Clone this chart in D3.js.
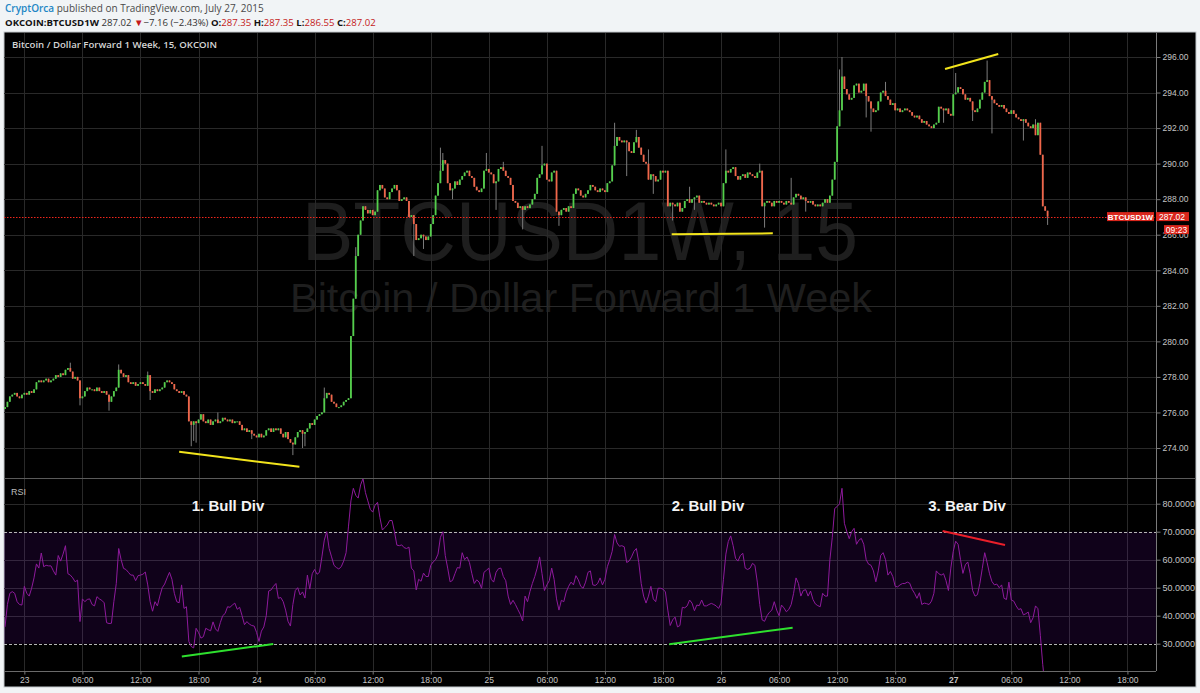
<!DOCTYPE html>
<html>
<head>
<meta charset="utf-8">
<script src="https://cdn.jsdelivr.net/npm/d3@7"></script>
<style>
  body { margin: 0; background: #f1f4f6; }
  svg { display: block; font-family: "Liberation Sans", Arial, sans-serif; }
</style>
</head>
<body>
<svg id="chart" width="1200" height="693"></svg>
<script>
// 15 minute closes, OKCOIN BTCUSD1W, from Jul 22 22:00
const closes = [
  276.3, 276.6, 276.9, 277.0, 277.1, 276.9, 276.8, 277.0, 277.1, 277.0, 277.2, 277.1, 277.3, 277.7, 277.8, 277.7,
  277.8, 277.9, 277.7, 277.8, 277.9, 278.1, 278.0, 278.2, 278.1, 278.4, 278.5, 278.3, 277.9, 278.0, 277.8, 276.8,
  276.9, 277.2, 277.4, 277.3, 277.3, 277.2, 277.4, 277.2, 277.1, 277.2, 277.0, 276.6, 276.9, 277.2, 277.4, 278.4,
  278.2, 278.0, 278.1, 277.7, 277.6, 277.7, 277.5, 277.6, 277.7, 277.6, 277.5, 278.1, 277.2, 277.1, 277.3, 277.2,
  277.3, 277.4, 277.7, 277.8, 277.7, 277.6, 277.3, 277.2, 277.1, 277.2, 277.0, 276.9, 275.5, 275.3, 275.5, 275.4,
  275.6, 275.9, 275.5, 275.4, 275.6, 275.3, 275.5, 275.6, 275.4, 275.5, 275.7, 275.6, 275.5, 275.6, 275.4, 275.5,
  275.5, 275.3, 275.0, 275.1, 274.9, 275.0, 274.8, 274.7, 274.6, 274.8, 274.6, 274.7, 275.0, 275.1, 274.9, 275.1,
  275.0, 275.1, 274.8, 274.6, 274.9, 274.5, 274.3, 274.2, 274.6, 274.9, 275.0, 274.8, 274.9, 275.1, 275.4, 275.3,
  275.6, 275.8, 275.9, 276.0, 276.8, 277.1, 277.0, 276.6, 276.5, 276.3, 276.3, 276.4, 276.6, 276.7, 276.8, 280.3,
  282.4, 284.8, 286.0, 286.8, 287.6, 287.4, 287.2, 287.4, 287.1, 287.3, 288.5, 288.8, 288.6, 288.1, 288.0, 288.4,
  288.6, 288.8, 288.5, 287.9, 288.0, 288.1, 287.9, 287.0, 287.1, 286.6, 285.7, 285.8, 286.0, 285.9, 285.7, 285.9,
  286.6, 287.1, 288.2, 288.9, 289.6, 290.2, 290.0, 288.9, 288.5, 288.6, 289.0, 288.8, 289.1, 289.3, 289.5, 289.6,
  289.3, 289.2, 288.7, 288.5, 288.4, 288.6, 289.6, 289.7, 289.5, 289.4, 288.9, 289.0, 289.7, 289.8, 289.6, 289.3,
  289.2, 288.8, 287.9, 287.8, 287.5, 287.6, 287.4, 287.6, 287.5, 287.7, 288.0, 288.3, 289.2, 289.4, 289.9, 290.0,
  289.1, 289.0, 289.5, 289.6, 287.3, 287.1, 287.4, 287.5, 287.3, 287.6, 287.5, 288.3, 288.6, 288.5, 288.2, 288.1,
  288.3, 288.5, 288.8, 288.7, 288.5, 288.4, 288.6, 288.5, 288.4, 288.9, 289.0, 289.9, 291.0, 291.5, 291.3, 291.2,
  291.3, 291.2, 290.7, 290.6, 291.2, 291.5, 290.9, 290.5, 290.1, 290.0, 289.1, 289.4, 289.3, 289.0, 289.1, 289.6,
  289.5, 289.6, 287.6, 287.8, 287.7, 287.6, 287.8, 287.3, 287.5, 287.9, 288.0, 287.8, 288.0, 288.1, 288.2, 287.8,
  287.9, 287.8, 287.7, 287.8, 287.7, 287.6, 287.7, 287.8, 287.6, 288.9, 289.6, 289.5, 289.7, 289.8, 289.3, 289.1,
  289.3, 289.4, 289.2, 289.5, 289.4, 289.3, 289.2, 289.5, 289.6, 287.6, 287.8, 287.9, 287.8, 287.6, 287.9, 287.8,
  287.9, 287.8, 287.7, 287.9, 287.8, 287.7, 288.1, 288.3, 288.2, 288.0, 288.1, 287.9, 287.8, 287.9, 287.7, 287.6,
  287.7, 287.6, 287.8, 288.0, 287.8, 288.2, 289.1, 290.1, 292.1, 293.0, 294.9, 294.2, 293.9, 293.6, 293.7, 294.4,
  294.5, 294.0, 294.1, 294.5, 293.8, 293.5, 293.1, 292.9, 293.0, 293.5, 294.0, 294.1, 293.8, 293.6, 293.3, 293.4,
  293.0, 293.1, 292.9, 293.0, 293.1, 293.0, 292.9, 292.7, 292.6, 292.7, 292.5, 292.3, 292.4, 292.2, 292.1, 292.0,
  292.2, 292.3, 293.2, 293.1, 293.0, 293.1, 292.8, 292.7, 293.9, 294.0, 294.3, 294.2, 293.9, 293.6, 293.7, 293.5,
  293.0, 292.9, 293.1, 293.6, 294.0, 294.6, 294.7, 293.8, 293.6, 293.4, 293.3, 293.2, 293.3, 293.1, 292.9, 292.8,
  293.0, 292.8, 292.6, 292.5, 292.4, 292.5, 292.3, 292.1, 292.0, 292.2, 291.6, 292.3, 290.5, 287.6, 287.35, 287.02
];
const firstOpen = 276.2;

// longer wicks that stand out [candle, price]
const wickHighs = [
  [27, 278.8], [47, 278.7], [59, 278.3], [88, 276.0], [132, 277.4], [145, 285.3], [180, 290.9], [181, 290.6],
  [199, 290.6], [206, 290.1], [222, 291.0], [252, 292.3], [261, 291.9], [266, 290.8], [283, 288.7], [298, 290.8],
  [312, 290.0], [325, 289.2], [345, 295.3], [346, 296.0], [364, 294.6], [393, 295.1], [406, 295.8], [426, 292.5]
];
const wickLows = [
  [31, 276.4], [43, 276.1], [60, 276.7], [77, 274.1], [78, 274.4], [79, 274.3], [102, 274.5], [119, 273.6],
  [123, 274.0], [124, 274.1], [169, 284.8], [173, 285.2], [185, 288.0], [203, 287.4], [214, 286.3], [229, 286.5],
  [257, 289.3], [268, 288.3], [276, 286.8], [285, 287.4], [314, 286.4], [331, 287.3], [356, 292.6], [358, 291.8],
  [388, 292.3], [400, 292.4], [408, 291.7], [421, 291.3], [431, 286.55]
];

// RSI(14), one value per candle
const rsiValues = [
  36, 44, 48, 48.6, 48, 45, 44, 43.8, 50.5, 48, 47, 49.8, 53.5, 58.5, 57, 62.4,
  57.5, 58, 57.8, 57.8, 56, 54.5, 61.5, 59.5, 62, 65, 55, 54.5, 53.5, 52.1, 52.7, 37.9,
  46, 45, 45.8, 46, 44, 43.5, 46.8, 46, 45.5, 44.6, 37.5, 37.2, 37.3, 45, 51.5, 64,
  60, 56.9, 56.5, 55.5, 54.5, 54.5, 52.5, 54.3, 54.5, 54.8, 55.6, 51, 45, 41.6, 45, 43.5,
  47, 50, 51.3, 53.5, 55.5, 53, 48, 45, 44.6, 51, 42.6, 43.2, 30.8, 29, 28.5, 35.5,
  34, 32, 32.5, 35.5, 35, 34.6, 37.8, 35.3, 34.4, 37.5, 40, 40.8, 43.2, 43, 43.8, 44.5,
  42.3, 43, 40, 36.8, 37.9, 37, 36.5, 36.3, 34, 30.8, 34.5, 36, 40, 48.8, 49.2, 50.5,
  51.5, 46.2, 46.5, 45, 42, 38, 36.3, 44, 49, 50, 47.4, 48.5, 46.3, 54.5, 49.5, 55,
  56.5, 54.8, 55.5, 61, 67, 70, 64, 61, 58, 57.2, 56.7, 57.5, 59.5, 62.5, 72, 81,
  85.5, 83, 82, 86.7, 89, 84, 81, 78, 77, 79.5, 80.5, 75, 70.6, 71.5, 72.4, 74,
  74, 70, 65.2, 65, 65.3, 64.3, 64, 64.5, 57, 56, 49.2, 53, 52.3, 55.2, 54, 54,
  58, 59.2, 60, 62, 68, 70, 61.5, 57, 52.1, 52.6, 55, 57.2, 57, 62.5, 60, 61,
  59, 55, 51.5, 52.8, 52, 49.8, 55.5, 56.2, 57, 53, 52, 55.5, 56.8, 57, 54, 52.5,
  47, 44, 45.5, 44, 42.2, 40.5, 38.1, 47, 45, 48.6, 51.5, 54, 57, 61, 55, 49,
  51, 52.5, 57, 53, 46, 42, 45.5, 45, 48.5, 50.5, 52, 51, 54.3, 52.8, 50.5, 49.8,
  52, 55.5, 56, 51, 50.8, 51.5, 53.5, 51, 53, 57.5, 60, 63, 69, 66, 64.8, 65,
  64.6, 59, 59.5, 61, 63, 64, 59, 51.5, 47, 44.5, 47, 50.5, 46, 45, 49.8, 49.8,
  49.5, 48.5, 42, 36.5, 38.5, 39.5, 36, 36.5, 43, 42.8, 43.5, 45.6, 44.5, 41.8, 43.8, 43.6,
  45.6, 43.5, 43.5, 44, 44.4, 44, 43.5, 42.6, 44.5, 53, 62, 66.5, 68.5, 65, 60.5, 59.5,
  61.5, 62.3, 57, 56.5, 57, 58.7, 58, 52, 44, 38.5, 38, 40, 41.2, 42, 45, 42,
  40, 43.8, 42.8, 41.4, 42.2, 44, 48, 53.5, 51.5, 47, 49, 49.3, 47, 48.8, 45.8, 44.2,
  43.6, 43.2, 48, 47, 47, 60, 68, 78.3, 79, 80, 85.5, 73, 70, 67.5, 70, 71.2,
  65.5, 67, 67.6, 65.5, 60, 58.4, 58, 56, 52.1, 56, 61.5, 62.5, 60, 54.5, 55.8, 54,
  50.5, 50.3, 51, 51.5, 51.5, 52, 51.6, 49.4, 48, 46.2, 48.2, 44, 44.5, 44.3, 44, 45.2,
  48, 56, 55, 54.5, 55, 52.5, 49, 57, 63, 66.6, 65.5, 60, 55.1, 58.2, 59.2, 55,
  49, 47, 47.5, 51.5, 56.9, 62.5, 59, 55, 52.2, 51, 51.3, 50, 51, 46.2, 45.8, 52,
  45.6, 45.2, 43.5, 42.2, 42.5, 40.3, 40.7, 41.3, 37.5, 39.3, 43.5, 42.5, 33, 22.5, 14, 10
];

const priceTicks = [274, 276, 278, 280, 282, 284, 286, 288, 290, 292, 294, 296];
const rsiTicks = [30, 40, 50, 60, 70, 80];
const rsiGrid = [40, 50, 60, 80];
const rsiBand = [30, 70];

// drawn trend lines [candle, value, candle, value]
const priceLines = [[72, 273.79, 121.7, 272.94], [275.6, 286.02, 317.4, 286.08], [388.6, 295.32, 410.6, 296.17]];
const rsiLines = [[73.1, 25.4, 110.9, 29.9, "bull"], [274.6, 29.8, 325.6, 35.7, "bull"], [387.6, 70.25, 413.4, 65.25, "bear"]];
const notes = [["1. Bull Div", 92.2, 77.4], ["2. Bull Div", 290.6, 77.4], ["3. Bear Div", 397.7, 77.4]];

const lastPrice = 287.02;

// ---- layout
const paneL = 4, paneR = 1156, outerR = 1196;
const priceTop = 33, priceBot = 478, rsiBot = 671, axisBot = 687;

const t0 = new Date(2015, 6, 22, 22, 0);
const timeAt = i => new Date(+t0 + i * 15 * 60000);

const x = d3.scaleTime().domain([t0, timeAt(closes.length - 1)]).range([5, 1047.6]);
const y = d3.scaleLinear().domain([274, 296]).range([448, 57]);
const yr = d3.scaleLinear().domain([30, 70]).range([643.7, 531.7]);

const svg = d3.select("#chart");

// header
const head = svg.append("g").attr("font-family", "'Open Sans', sans-serif");
const h1 = head.append("text").attr("x", 5).attr("y", 12).attr("font-size", 10);
h1.append("tspan").attr("fill", "#1e87c5").attr("font-weight", 600).text("CryptOrca");
h1.append("tspan").attr("fill", "#4a4a4a").text(" published on TradingView.com, July 27, 2015");
const h2 = head.append("text").attr("x", 5).attr("y", 26).attr("font-size", 9.6).attr("fill", "#333");
h2.append("tspan").attr("font-weight", 700).attr("fill", "#111").text("OKCOIN:BTCUSD1W");
h2.append("tspan").text(" 287.02 ");
h2.append("tspan").attr("fill", "#c41a1a").text("▼");
h2.append("tspan").text("−7.16 (−2.43%)");
[["O:", "287.35"], ["H:", "287.35"], ["L:", "286.55"], ["C:", "287.02"]].forEach(([k, v]) => {
  h2.append("tspan").attr("font-weight", 700).attr("fill", "#111").text(" " + k);
  h2.append("tspan").attr("fill", "#c41a1a").text(v);
});

// chart background
svg.append("rect").attr("x", paneL).attr("y", 32).attr("width", outerR - paneL).attr("height", axisBot - 32)
  .attr("fill", "#000").attr("stroke", "#c3c8cc");

const defs = svg.append("defs");
defs.append("clipPath").attr("id", "clipP").append("rect")
  .attr("x", paneL).attr("y", priceTop).attr("width", paneR - paneL).attr("height", priceBot - priceTop);
defs.append("clipPath").attr("id", "clipR").append("rect")
  .attr("x", paneL).attr("y", priceBot).attr("width", paneR - paneL).attr("height", rsiBot - priceBot);

// watermark
svg.append("text").attr("x", 580).attr("y", 260).attr("text-anchor", "middle")
  .attr("font-size", 84).attr("fill", "#1e1e1e").attr("textLength", 556).attr("lengthAdjust", "spacingAndGlyphs")
  .text("BTCUSD1W, 15");
svg.append("text").attr("x", 581).attr("y", 312).attr("text-anchor", "middle")
  .attr("font-size", 40).attr("fill", "#1e1e1e").attr("textLength", 582).attr("lengthAdjust", "spacingAndGlyphs")
  .text("Bitcoin / Dollar Forward 1 Week");

// time ticks
const timeTicks = d3.timeHour.every(6).range(new Date(2015, 6, 23, 0), new Date(2015, 6, 28, 0))
  .filter(d => x(d) < paneR - 8);

const grid = svg.append("g").attr("stroke", "#292929").attr("stroke-width", 1).attr("shape-rendering", "crispEdges");
grid.selectAll(".vg").data(timeTicks).join("line")
  .attr("x1", d => Math.round(x(d)) + 0.5).attr("x2", d => Math.round(x(d)) + 0.5)
  .attr("y1", priceTop).attr("y2", rsiBot);
grid.selectAll(".hg").data(priceTicks).join("line")
  .attr("x1", paneL).attr("x2", paneR).attr("y1", d => Math.round(y(d)) + 0.5).attr("y2", d => Math.round(y(d)) + 0.5);

// rsi band and grid
svg.append("rect").attr("x", paneL).attr("width", paneR - paneL)
  .attr("y", yr(rsiBand[1])).attr("height", yr(rsiBand[0]) - yr(rsiBand[1]))
  .attr("fill", "#9915ff").attr("fill-opacity", 0.1);
grid.selectAll(".rg").data(rsiGrid).join("line")
  .attr("x1", paneL).attr("x2", paneR).attr("y1", d => Math.round(yr(d)) + 0.5).attr("y2", d => Math.round(yr(d)) + 0.5);
svg.append("g").selectAll("line").data(rsiBand).join("line")
  .attr("x1", paneL).attr("x2", paneR).attr("y1", d => Math.round(yr(d)) + 0.5).attr("y2", d => Math.round(yr(d)) + 0.5)
  .attr("stroke", "#b5b5b5").attr("stroke-dasharray", "3,2").attr("shape-rendering", "crispEdges");

// pane title + rsi label
svg.append("text").attr("x", 12).attr("y", 48).attr("font-family", "'Open Sans', sans-serif")
  .attr("font-size", 9.6).attr("font-weight", 600).attr("fill", "#d6d6d6")
  .text("Bitcoin / Dollar Forward 1 Week, 15, OKCOIN");
svg.append("text").attr("x", 11).attr("y", 495).attr("font-size", 9).attr("fill", "#bcbcbc").text("RSI");

// candles
const hiMap = new Map(wickHighs), loMap = new Map(wickLows);
const candles = closes.map((c, i) => {
  const o = i === 0 ? firstOpen : closes[i - 1];
  return {
    t: timeAt(i), o, c,
    h: Math.max(o, c, hiMap.get(i) ?? -Infinity),
    l: Math.min(o, c, loMap.get(i) ?? Infinity)
  };
});

const cg = svg.append("g").attr("clip-path", "url(#clipP)");
cg.selectAll(".wick").data(candles).join("line")
  .attr("x1", d => x(d.t)).attr("x2", d => x(d.t))
  .attr("y1", d => y(d.h)).attr("y2", d => y(d.l))
  .attr("stroke", "#7c7c7c").attr("stroke-width", 1);
cg.selectAll(".body").data(candles).join("rect")
  .attr("x", d => x(d.t) - 0.9).attr("width", 1.8)
  .attr("y", d => y(Math.max(d.o, d.c)))
  .attr("height", d => Math.max(1, Math.abs(y(d.o) - y(d.c))))
  .attr("fill", d => d.c >= d.o ? "#53cf4b" : "#f0664a");

// last price dotted line
svg.append("line").attr("x1", paneL).attr("x2", paneR)
  .attr("y1", Math.round(y(lastPrice)) + 0.5).attr("y2", Math.round(y(lastPrice)) + 0.5)
  .attr("stroke", "#f0261b").attr("stroke-width", 1.2).attr("stroke-dasharray", "1.5,1.5");

// trend lines in price pane
cg.selectAll(".tl").data(priceLines).join("line")
  .attr("x1", d => x(timeAt(d[0]))).attr("y1", d => y(d[1]))
  .attr("x2", d => x(timeAt(d[2]))).attr("y2", d => y(d[3]))
  .attr("stroke", "#f2e41c").attr("stroke-width", 2);

// rsi line
const rg = svg.append("g").attr("clip-path", "url(#clipR)");
rg.append("path").datum(rsiValues)
  .attr("d", d3.line().x((d, i) => x(timeAt(i))).y(d => yr(d)))
  .attr("fill", "none").attr("stroke", "#8e1a9c").attr("stroke-width", 1);
rg.selectAll(".rl").data(rsiLines).join("line")
  .attr("x1", d => x(timeAt(d[0]))).attr("y1", d => yr(d[1]))
  .attr("x2", d => x(timeAt(d[2]))).attr("y2", d => yr(d[3]))
  .attr("stroke", d => d[4] === "bull" ? "#2ee02e" : "#ea1f2a").attr("stroke-width", 2);
svg.selectAll(".note").data(notes).join("text")
  .attr("x", d => x(timeAt(d[1]))).attr("y", d => yr(d[2]))
  .attr("text-anchor", "middle").attr("font-size", 15).attr("font-weight", 700).attr("fill", "#f4f4f4")
  .text(d => d[0]);

// pane separator and borders
svg.append("line").attr("x1", paneL).attr("x2", outerR).attr("y1", priceBot + 0.5).attr("y2", priceBot + 0.5)
  .attr("stroke", "#5a5a5a");
svg.append("line").attr("x1", paneL).attr("x2", paneR).attr("y1", rsiBot + 0.5).attr("y2", rsiBot + 0.5)
  .attr("stroke", "#6a6a6a");

// axes
function styleAxis(g) {
  g.select(".domain").attr("stroke", "#7a7a7a");
  g.selectAll(".tick line").attr("stroke", "#7a7a7a");
  g.selectAll(".tick text").attr("fill", "#c4c4c4").attr("font-size", 8.5)
    .attr("font-family", "'Liberation Sans', Arial, sans-serif");
}
svg.append("g").attr("transform", `translate(${paneR + 0.5},0)`)
  .call(d3.axisRight(y).tickValues(priceTicks).tickFormat(d3.format(".2f")).tickSize(4).tickPadding(2).tickSizeOuter(0))
  .call(g => g.select(".domain").attr("d", `M0,${priceTop}V${priceBot}`))
  .call(styleAxis);
svg.append("g").attr("transform", `translate(${paneR + 0.5},0)`)
  .call(d3.axisRight(yr).tickValues(rsiTicks).tickFormat(d3.format(".4f")).tickSize(4).tickPadding(2).tickSizeOuter(0))
  .call(g => g.select(".domain").attr("d", `M0,${priceBot}V${rsiBot}`))
  .call(styleAxis)
  .call(g => g.selectAll(".tick text").attr("font-size", 9));

const fmtTime = d => d.getHours() === 0 ? String(d.getDate()) : d3.timeFormat("%H:%M")(d);
svg.append("g").attr("transform", `translate(0,${rsiBot + 0.5})`)
  .call(d3.axisBottom(x).tickValues(timeTicks).tickFormat(fmtTime).tickSize(3).tickPadding(2).tickSizeOuter(0))
  .call(g => g.select(".domain").remove())
  .call(styleAxis)
  .call(g => g.selectAll(".tick text").filter(d => d.getDate() === 27 && d.getHours() === 0).attr("font-weight", 700));

// last price labels
const ly = y(lastPrice);
const tags = svg.append("g").attr("font-size", 8).attr("fill", "#fff");
tags.append("rect").attr("x", 1107).attr("y", ly - 4.5).attr("width", 47).attr("height", 9).attr("fill", "#d9261c");
tags.append("text").attr("x", 1130.5).attr("y", ly + 3).attr("text-anchor", "middle").attr("font-weight", 700).text("BTCUSD1W");
tags.append("rect").attr("x", paneR).attr("y", ly - 4.5).attr("width", 33).attr("height", 9).attr("fill", "#d9261c");
tags.append("text").attr("x", paneR + 3).attr("y", ly + 3).attr("font-size", 8.5).text("287.02");
tags.append("rect").attr("x", 1164).attr("y", ly + 8.5).attr("width", 25).attr("height", 9).attr("fill", "#d9261c");
tags.append("text").attr("x", 1176.5).attr("y", ly + 16).attr("text-anchor", "middle").attr("font-size", 8.5).text("09:23");
</script>
</body>
</html>
